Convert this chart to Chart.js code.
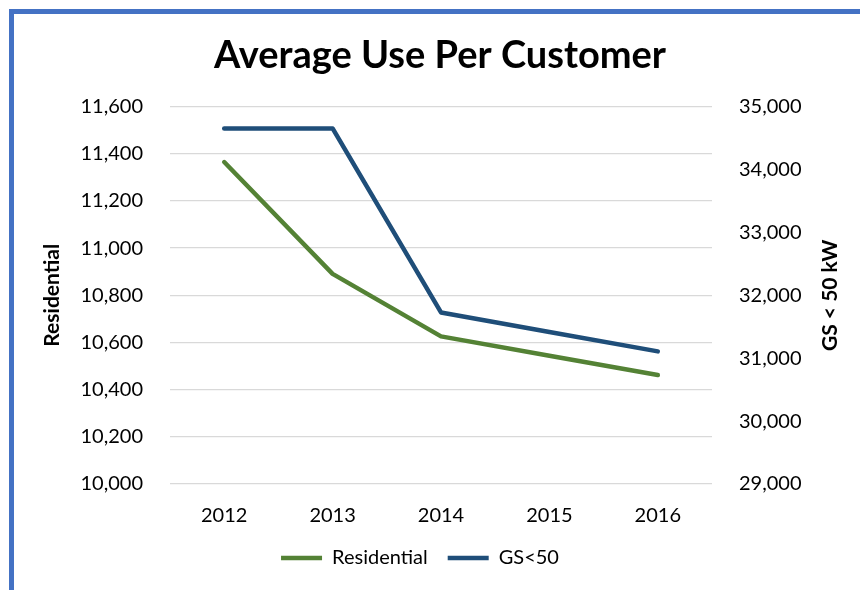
<!DOCTYPE html>
<html>
<head>
<meta charset="utf-8">
<script src="https://cdn.jsdelivr.net/npm/chart.js@4.4.0/dist/chart.umd.min.js"></script>
<style>
  html, body { margin: 0; padding: 0; background: #fff; }
  #wrap { position: relative; width: 860px; height: 590px; overflow: hidden; }
  #avg-use { position: absolute; left: 0; top: 0; }
  #frame {
    position: absolute; left: 9px; top: 9px; width: 860px; height: 590px;
    border-left: 5px solid #4472C4; border-top: 5px solid #4472C4;
  }
</style>
</head>
<body>
<div id="wrap">
  <canvas id="avg-use" width="860" height="590"></canvas>
  <div id="frame"></div>
</div>
<script>
// average use per customer - two axis line chart
const years = ['2012', '2013', '2014', '2015', '2016'];
const residential = [11365, 10891, 10626, 10544, 10462];
const gsUnder50 = [34653, 34653, 31727, 31417, 31108];

const FONT = 'Lato, "Open Sans", sans-serif';

// Excel puts the right axis title bottom-to-top, Chart.js flips it, so draw it here
const rightTitle = {
  id: 'rightTitle',
  afterLayout(chart) {
    // excel legend sits a bit left of the centre
    chart.legend.left -= 20;
    chart.legend.right -= 20;
  },
  afterDraw(chart) {
    const s = chart.scales.y2;
    const ctx = chart.ctx;
    ctx.save();
    ctx.translate(s.right - 30, (chart.chartArea.top + chart.chartArea.bottom) / 2);
    ctx.rotate(-Math.PI / 2);
    ctx.font = 'bold 21px ' + FONT;
    ctx.fillStyle = '#000';
    ctx.textAlign = 'center';
    ctx.textBaseline = 'middle';
    ctx.fillText('GS < 50 kW', 0, 0);
    ctx.restore();
  }
};

const dataAvgUse = {
  labels: years,
  datasets: [
    {
      label: 'Residential',
      data: residential,
      borderColor: '#548235',
      backgroundColor: '#548235',
      borderWidth: 4.5,
      borderCapStyle: 'round',
      borderJoinStyle: 'round',
      pointRadius: 0,
      pointStyle: 'line',
      tension: 0,
      yAxisID: 'y'
    },
    {
      label: 'GS<50',
      data: gsUnder50,
      borderColor: '#1F4E79',
      backgroundColor: '#1F4E79',
      borderWidth: 4.5,
      borderCapStyle: 'round',
      borderJoinStyle: 'round',
      pointRadius: 0,
      pointStyle: 'line',
      tension: 0,
      yAxisID: 'y2'
    }
  ]
};

const configAvgUse = {
  type: 'line',
  data: dataAvgUse,
  options: {
    responsive: false,
    animation: false,
    layout: { padding: { left: 20, right: 0, top: 0, bottom: 12 } },
    plugins: {
      title: {
        display: true,
        text: 'Average Use Per Customer',
        color: '#000',
        font: { family: FONT, size: 38, weight: 'bold', lineHeight: 1.2 },
        padding: { top: 33, bottom: 28 }
      },
      legend: {
        position: 'bottom',
        labels: {
          usePointStyle: true,
          pointStyleWidth: 41,
          color: '#000',
          font: { family: FONT, size: 20 },
          padding: 20
        }
      },
      tooltip: { enabled: false }
    },
    scales: {
      x: {
        offset: true,
        grid: { display: false, drawTicks: false },
        border: { display: false },
        ticks: { color: '#000', font: { family: FONT, size: 20 }, padding: 20 },
        afterFit(scale) { scale.height = 44; }
      },
      y: {
        position: 'left',
        min: 10000,
        max: 11600,
        grid: { color: '#d9d9d9', lineWidth: 1.3, drawTicks: false },
        border: { display: false },
        ticks: {
          stepSize: 200,
          color: '#000',
          padding: 27,
          font: { family: FONT, size: 20 },
          callback: v => v.toLocaleString('en-US')
        },
        title: {
          display: true,
          text: 'Residential',
          color: '#000',
          font: { family: FONT, size: 21, weight: 'bold' },
          padding: { top: 20, bottom: 0 }
        },
        afterFit(scale) { scale.width = 150; }
      },
      y2: {
        position: 'right',
        min: 29000,
        max: 35000,
        grid: { display: false, drawTicks: false },
        border: { display: false },
        ticks: {
          stepSize: 1000,
          color: '#000',
          padding: 27,
          font: { family: FONT, size: 20 },
          callback: v => v.toLocaleString('en-US')
        },
        afterFit(scale) { scale.width = 148; }
      }
    }
  },
  plugins: [rightTitle]
};

const ChartAvgUse = new Chart(
  document.getElementById('avg-use'),
  configAvgUse
);
</script>
</body>
</html>
